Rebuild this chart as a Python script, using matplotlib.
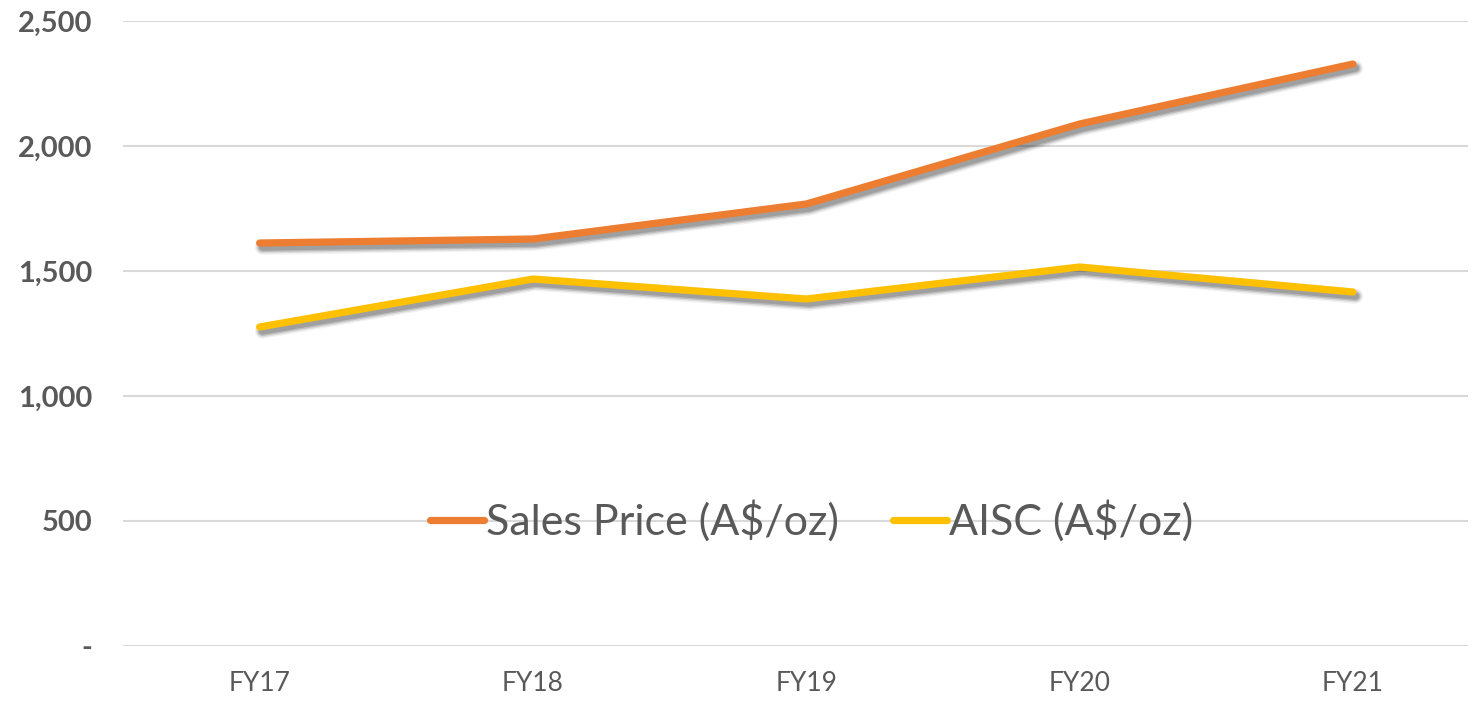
import matplotlib
matplotlib.use("Agg")
import matplotlib.pyplot as plt
import matplotlib.patheffects as pe
from matplotlib.ticker import FuncFormatter
from matplotlib.lines import Line2D

# Data
years = ["FY17", "FY18", "FY19", "FY20", "FY21"]
sales_price = [1612, 1628, 1768, 2088, 2328]
aisc = [1276, 1468, 1388, 1516, 1416]

plt.rcParams['font.family'] = ['Lato', 'DejaVu Sans']
text_grey = '#595959'

fig = plt.figure(figsize=(14.78, 7.03), dpi=100)
ax = fig.add_axes([0.0832, 0.0811, 0.9098, 0.8890])

# soft drop shadow, built from a few wide faint strokes
shadow = [pe.Stroke(offset=(2, -3), linewidth=11, foreground='black', alpha=0.05),
          pe.Stroke(offset=(2, -3), linewidth=9, foreground='black', alpha=0.09),
          pe.Stroke(offset=(2, -3), linewidth=7, foreground='black', alpha=0.15),
          pe.Stroke(offset=(2, -3), linewidth=5, foreground='black', alpha=0.15),
          pe.Normal()]

x = list(range(len(years)))
ax.plot(x, sales_price, color='#ED7D31', lw=5.2, solid_capstyle='round',
        solid_joinstyle='round', path_effects=shadow, zorder=3)
ax.plot(x, aisc, color='#FFC000', lw=5.2, solid_capstyle='round',
        solid_joinstyle='round', path_effects=shadow, zorder=3)

# Axes and grid
ax.set_ylim(0, 2500)
ax.set_xlim(-0.5, 4.42)
ax.set_yticks(range(0, 2501, 500))
ax.yaxis.set_major_formatter(FuncFormatter(lambda v, p: '-' if v == 0 else f'{int(v):,}'))
ax.set_xticks(x)
ax.set_xticklabels(years)
ax.grid(axis='y', color='#D9D9D9', lw=1.5)
ax.set_axisbelow(True)
for s in ax.spines.values():
    s.set_visible(False)
ax.tick_params(length=0)
ax.tick_params(axis='y', labelsize=21, labelcolor=text_grey, pad=22)
ax.tick_params(axis='x', labelsize=19, labelcolor=text_grey, pad=18)
for lab in ax.get_yticklabels():
    lab.set_fontweight('bold')

# Legend (no shadow on the handles)
handles = [Line2D([], [], color='#ED7D31', lw=5.2, solid_capstyle='round'),
           Line2D([], [], color='#FFC000', lw=5.2, solid_capstyle='round')]
leg = ax.legend(handles, ['Sales Price (A$/oz)', 'AISC (A$/oz)'], ncol=2,
                loc='center', bbox_to_anchor=(0.512, 0.2), frameon=False,
                fontsize=31, handlelength=1.25, handletextpad=0.05,
                columnspacing=1.25)
for t in leg.get_texts():
    t.set_color(text_grey)

fig.savefig('out.png', dpi=100)
